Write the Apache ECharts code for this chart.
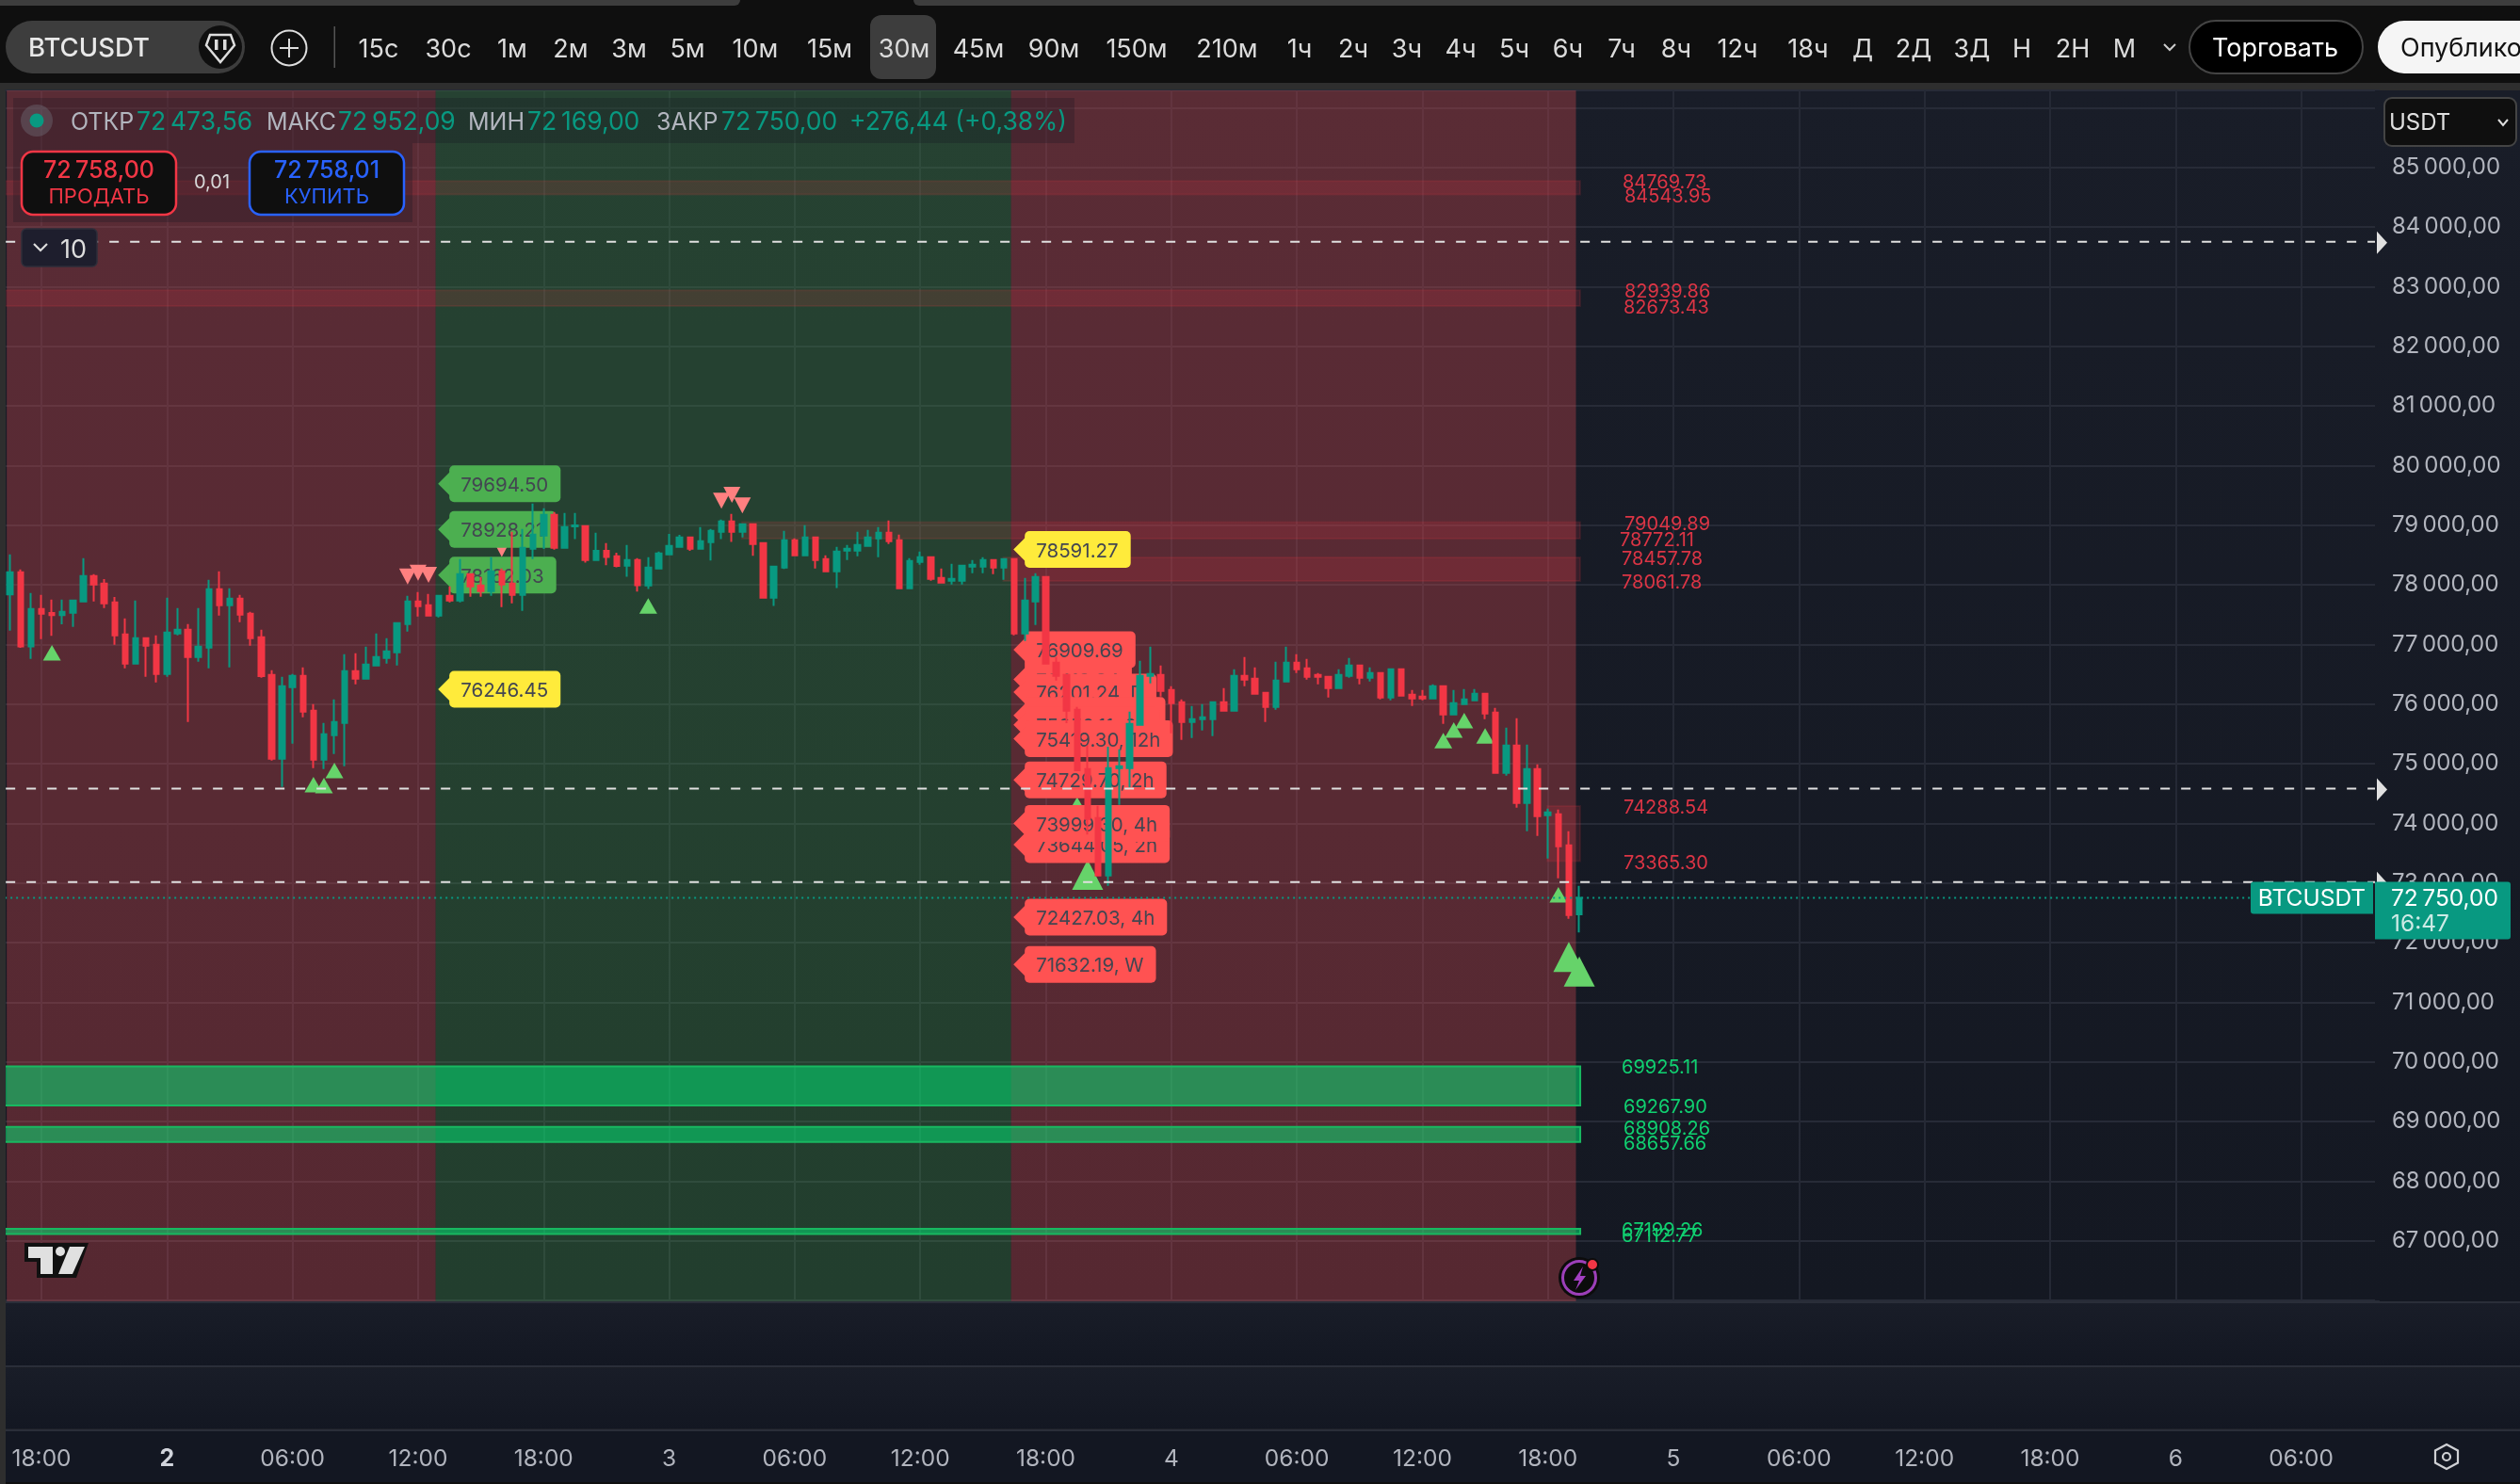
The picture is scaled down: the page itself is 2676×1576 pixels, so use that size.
<!DOCTYPE html>
<html><head><meta charset="utf-8">
<script src="https://cdn.jsdelivr.net/npm/echarts@6/dist/echarts.min.js"></script>
<style>html,body{margin:0;padding:0;background:#0f0f0f}#c{width:2676px;height:1576px}</style>
</head><body><div id="c"></div>
<script>
const tickLabels=['18:00','2','06:00','12:00','18:00','3','06:00','12:00','18:00','4','06:00','12:00','18:00','5','06:00','12:00','18:00','6','06:00'];
const opens=[77837,78211,76968,77595,77526,77490,77532,77721,78147,78021,77705,77169,76679,77105,76995,76505,77184,77247,76790,76947,77926,77658,77768,77516,77121,76490,75084,76284,76474,75890,75069,75479,75684,76553,76426,76647,76774,76868,77342,77721,77658,77484,77816,77737,78179,77989,77895,78226,78021,77832,78605,78826,79174,78621,78978,78984,78415,78568,78478,78321,78415,77989,78273,78510,78636,78794,78605,78715,78889,79063,78889,79015,78699,77784,78289,78747,78494,78794,78431,78226,78573,78573,78652,78778,78873,78747,77942,78384,78463,78115,78068,78068,78305,78305,78415,78289,78431,77184,77721,78131,76695,76489,75905,74910,74089,73126,74926,74926,75652,76473,76489,76236,76031,75700,75747,75747,76031,75889,76473,76426,76189,75952,76378,76694,76600,76489,76457,76268,76473,76647,76442,76521,76110,76584,76157,76126,76094,76300,75826,76000,76063,76173,75857,74847,75305,74342,74910,74137,74152,73631,72473.56];
const closes=[78211,76968,77595,77516,77490,77547,77737,78147,78005,77690,77153,76679,77105,76979,76505,77200,77247,76790,76963,77926,77658,77768,77500,77105,76468,75084,76300,76474,75874,75069,75495,75700,76553,76426,76663,76790,76884,77358,77721,77642,77484,77816,77737,78179,77974,77895,78226,78005,77832,78621,78842,79174,78621,78968,78994,78415,78568,78468,78315,78415,77994,78289,78526,78652,78794,78605,78731,78905,79063,78889,79015,78684,77784,78305,78747,78494,78794,78415,78226,78557,78605,78668,78794,78873,78731,77942,78400,78463,78100,78036,78100,78321,78336,78415,78289,78431,77184,77737,78131,76679,76474,75889,74889,74074,73126,74926,74958,75668,76473,76505,76221,76015,75700,75747,75779,76031,75889,76473,76410,76173,75952,76394,76694,76584,76457,76457,76268,76489,76647,76442,76521,76110,76584,76142,76094,76094,76300,75826,76015,76078,76173,75842,74847,75305,74342,74910,74121,74184,73615,72463,72750];
const lows=[77232,76942,76758,77090,77142,77337,77295,77721,77721,77611,76995,76600,76679,76458,76363,76458,77153,75700,76711,76600,77484,76616,77374,76979,76442,75053,74611,75337,75779,74926,74911,75163,74958,76332,76411,76632,76679,76647,77216,77468,77468,77453,77705,77705,77800,77800,77816,77626,77689,77563,78432,78600,78589,78610,78768,78373,78400,78326,78294,78136,77884,77931,78273,78510,78636,78568,78594,78405,78768,78720,78794,78484,77784,77647,78263,78478,78494,78273,78215,77947,78415,78478,78636,78463,78684,77942,77942,78336,78068,78021,78005,78005,78194,78194,78178,78084,77152,77058,77326,76679,76395,75679,74889,73811,73126,72953,74310,74600,75636,76347,76126,75510,75400,75431,75557,75463,75873,75889,76300,76173,75700,75905,76378,76521,76410,76331,76110,76252,76442,76331,76378,76078,76063,76126,75968,76063,76094,75668,75826,76000,76047,75747,74847,74800,74263,73868,73789,73410,73079,72400,72169];
const highs=[78511,78258,77863,77832,77753,77753,77737,78447,78179,78095,77795,77437,77737,77121,77153,77784,77611,77342,77611,78084,78226,77942,77832,77547,77247,76568,76458,76505,76616,76000,75684,76079,76837,76853,76963,77184,77105,77374,77816,77879,77847,77816,77974,78432,78195,78132,78463,78274,78889,78937,79363,79284,79221,79205,79205,78984,78873,78699,78536,78668,78447,78463,78557,78852,78836,78810,78968,78936,79094,79189,79015,79015,78715,78305,78905,78778,78999,78810,78494,78636,78668,78889,78921,78968,79078,78842,78447,78557,78463,78273,78352,78336,78415,78463,78431,78431,78431,78116,78195,78131,76789,76495,75953,75305,74295,75284,75242,75874,76726,76963,76647,76300,76078,75968,76000,76047,76268,76584,76789,76615,76189,76710,76963,76836,76757,76521,76457,76584,76773,76663,76615,76536,76600,76600,76236,76236,76331,76300,76236,76252,76252,76189,75936,75605,75763,75321,74989,74247,74231,73868,72952.09];
const sessionStarts=[0,41,96];
const sessionEnds=[40,95,149];
const sessionBull=[false,true,false];
const resistTop=[84769.73,82939.86,79049.89,78457.78,74288.54];
const resistBottom=[84543.95,82673.43,78772.11,78061.78,73365.30];
const resistFrom=[0,0,70,95,147];
const supportTop=[69925.11,68908.26,67199.26];
const supportBottom=[69267.90,68657.66,67112.77];
const levelNames=['84769.73','84543.95','82939.86','82673.43','79049.89','78772.11','78457.78','78061.78','74288.54','73365.30','69925.11','69267.90','68908.26','68657.66','67199.26','67112.77'];
const levelValues=[84769.73,84543.95,82939.86,82673.43,79049.89,78772.11,78457.78,78061.78,74288.54,73365.30,69925.11,69267.90,68908.26,68657.66,67199.26,67112.77];
const dashedLevels=[83753,74583,73016];
const upIdx=[4,29,30,31,61,102,137,138,139,141,148];
const upVal=[76858,74648,74632,74884,77647,74310,75389,75563,75721,75468,72800];
const bigUpIdx=[103,149,150];
const bigUpVal=[73137,71758,71516];
const downIdx=[38,39,40,47,68,69,70];
const downVal=[78137,78200,78168,78600,79410,79510,79331];
const greenTagVals=[79694.50,78928.21,78162.03];
const yellowTagIdx=[41,96];
const yellowTagVals=[76246.45,78591.27];
const redTagVals=[76909.69,76413.84,76201.24,75810.52,75650.11,75419.30,74729.70,73644.05,73999.30,72427.03,71632.19];
const redTagText=['76909.69','76413.84','76201.24, D','75810.52, 8h','75650.11, 6h','75419.30, 12h','74729.70, 2h','73644.05, 2h','73999.30, 4h','72427.03, 4h','71632.19, W'];
const lastPrice=72750;
const yTop=86290, yBottom=66000, yStep=1000;

const UP='#089981',DN='#f23645',TAGTXT='#434651',FONT='Inter, Roboto, sans-serif';
const BAR_COUNT=227;
const categories=[];for(let i=0;i<BAR_COUNT;i++){categories.push((i-3)%12===0?(tickLabels[(i-3)/12]||''):'');}
const isTick=i=>(i-3)%12===0;
const candleData=opens.map((o,i)=>[o,closes[i],lows[i],highs[i]]);
const meas=document.createElement('canvas').getContext('2d');
function tw(s,f){meas.font=f;return meas.measureText(s).width;}
const tagFont='20.5px '+FONT;
function tagItem(api,idx,val,text,fill){
  const p=api.coord([idx,val]);const tip=p[0]-1,left=tip+12,cy=p[1];
  const w=tw(text,tagFont)+25;
  return {type:'group',children:[
    {type:'polygon',shape:{points:[[tip,cy],[left+1,cy-13],[left+1,cy+13]]},style:{fill}},
    {type:'rect',shape:{x:left,y:cy-19.5,width:w,height:39,r:5},style:{fill}},
    {type:'text',style:{text,x:left+12,y:cy+2,fill:TAGTXT,font:tagFont,verticalAlign:'middle'}}
  ]};
}
const paneGrad=(a,b)=>({type:'linear',x:0,y:0,x2:0,y2:1,colorStops:[{offset:0,color:a},{offset:1,color:b}]});
const g=[];
const rect=(x,y,w,h,fill,z,extra)=>g.push(Object.assign({type:'rect',z,shape:{x,y,width:w,height:h,r:(extra&&extra.r)||0},style:{fill,stroke:extra&&extra.stroke,lineWidth:extra&&extra.lw}}));
const t=(x,y,text,fill,font,align,z)=>g.push({type:'text',z:z||60,style:{x,y,text,fill,font,align:align||'left',verticalAlign:'middle'}});
// backgrounds
rect(0,0,2676,1576,'#0f0f0f',-20);
rect(0,88,2676,8,'#2e2e2e',-19);
rect(0,96,2676,1286,paneGrad('#191d28','#141822'),-18);
rect(0,1382,2676,2,'#2a2e39',-18);
rect(0,1384,2676,66,paneGrad('#191d28','#131722'),-18);
rect(0,1450,2676,2.5,'#2a2e39',-18);
rect(0,1452.5,2676,65,paneGrad('#191d28','#131722'),-18);
rect(0,1517.5,2676,2.5,'#2a2e39',-18);
rect(0,1520,2676,54,'#131722',-18);
rect(2522,96,6,1285,paneGrad('#191d28','#141822'),1);
rect(0,96,6,1480,'#2e2e2e',60);
// toolbar
rect(0,0,786,6,'#3d3d3d',60,{r:[0,0,8,0]});
rect(970,0,1706,6,'#3d3d3d',60,{r:[0,0,0,8]});
rect(6,22,254,56,'#3d3d3d',60,{r:28});
t(30,52,'BTCUSDT','#e8e8e8','500 27.5px '+FONT);
g.push({type:'circle',z:60,shape:{cx:234,cy:50,r:23},style:{fill:'#0f0f0f'}});
g.push({type:'polygon',z:61,shape:{points:[[223,37],[245,37],[249,48],[234,66],[219,48]]},style:{fill:'none',stroke:'#dddddd',lineWidth:2.5}});
g.push({type:'rect',z:61,shape:{x:228,y:42,width:3.5,height:11},style:{fill:'#dddddd'}});
g.push({type:'rect',z:61,shape:{x:237,y:42,width:3.5,height:11},style:{fill:'#dddddd'}});
g.push({type:'circle',z:60,shape:{cx:307,cy:51,r:18.5},style:{fill:'none',stroke:'#dddddd',lineWidth:2}});
g.push({type:'line',z:60,shape:{x1:297,y1:51,x2:317,y2:51},style:{stroke:'#dddddd',lineWidth:2}});
g.push({type:'line',z:60,shape:{x1:307,y1:41,x2:307,y2:61},style:{stroke:'#dddddd',lineWidth:2}});
rect(354.5,28,1.5,44,'#555555',60);
rect(924,16,70,68,'#3d3d3d',60,{r:12});
const tfNames=['15с','30с','1м','2м','3м','5м','10м','15м','30м','45м','90м','150м','210м','1ч','2ч','3ч','4ч','5ч','6ч','7ч','8ч','12ч','18ч','Д','2Д','3Д','Н','2Н','М'];
const tfX=[402,476,544,606,668,730,802,881,960,1039,1119,1207,1303,1380,1437,1494,1551,1608,1665,1722,1780,1845,1920,1978,2032,2094,2147,2201,2256];
tfNames.forEach((n,i)=>t(tfX[i],53,n,'#dbdbdb','27px '+FONT,'center',61));
g.push({type:'polyline',z:60,shape:{points:[[2298,47],[2304,53],[2310,47]]},style:{fill:'none',stroke:'#cccccc',lineWidth:2}});
rect(2325,22,184,56,'#000000',60,{r:28,stroke:'#444444',lw:2});
t(2416,52,'Торговать','#ffffff','27px '+FONT,'center',61);
rect(2525,22,200,56,'#f5f5f5',60,{r:28});
t(2549,52,'Опубликовать','#111111','27px '+FONT,'left',61);
// legend
rect(14,104,1127,48,'rgba(22,22,32,0.28)',50);
rect(14,152,424,84,'rgba(22,22,32,0.28)',50);
g.push({type:'circle',z:60,shape:{cx:39,cy:128,r:17},style:{fill:'rgba(120,123,134,0.35)'}});
g.push({type:'circle',z:61,shape:{cx:39,cy:128,r:7.5},style:{fill:UP}});
const lf='25px '+FONT, vf='26.5px '+FONT;
t(75,130,'ОТКР','#b2b5be',lf);t(145,130,'72\u2009473,56',UP,vf);
t(283,130,'МАКС','#b2b5be',lf);t(359,130,'72\u2009952,09',UP,vf);
t(497,130,'МИН','#b2b5be',lf);t(560,130,'72\u2009169,00',UP,vf);
t(697,130,'ЗАКР','#b2b5be',lf);t(766,130,'72\u2009750,00',UP,vf);
t(902,130,'+276,44 (+0,38%)',UP,vf);
rect(23,161,164,67,'#0f0f0f',55,{r:12,stroke:'#f23645',lw:2.5});
rect(265,161,164,67,'#0f0f0f',55,{r:12,stroke:'#2962ff',lw:2.5});
t(105,181,'72\u2009758,00','#f23645','500 25px '+FONT,'center');
t(105,209,'ПРОДАТЬ','#f23645','22px '+FONT,'center');
t(347,181,'72\u2009758,01','#2962ff','500 25px '+FONT,'center');
t(347,209,'КУПИТЬ','#2962ff','22px '+FONT,'center');
t(225,194,'0,01','#d8d8d8','20px '+FONT,'center');
rect(23,243,80,40,'#1e1e2d',55,{r:5,stroke:'#2e2e3a',lw:1.5});
g.push({type:'polyline',z:60,shape:{points:[[36,259],[43,266],[50,259]]},style:{fill:'none',stroke:'#dddddd',lineWidth:2.2}});
t(64,266,'10','#dddddd','27px '+FONT);
// USDT button
rect(2532,104,140,51,'#0f0f0f',55,{r:8,stroke:'#444444',lw:2});
t(2537,131,'USDT','#e0e0e0','24px '+FONT);
g.push({type:'polyline',z:60,shape:{points:[[2653,127],[2658,133],[2663,127]]},style:{fill:'none',stroke:'#dddddd',lineWidth:2}});
// TV logo
g.push({type:'polygon',z:40,shape:{points:[[26,1320],[94,1320],[81,1357],[39,1357],[39,1340],[26,1340]]},style:{fill:'#111111'}});
g.push({type:'polygon',z:41,shape:{points:[[30,1324],[56,1324],[56,1353],[43,1353],[43,1336],[30,1336]]},style:{fill:'#e0e0e0'}});
g.push({type:'circle',z:41,shape:{cx:64,cy:1329,r:5},style:{fill:'#e0e0e0'}});
g.push({type:'polygon',z:41,shape:{points:[[74,1324],[90,1324],[77,1353],[62,1353]]},style:{fill:'#e0e0e0'}});
// lightning icon
g.push({type:'circle',z:40,shape:{cx:1677,cy:1357,r:22},style:{fill:'#0c0c0c'}});
g.push({type:'circle',z:41,shape:{cx:1677,cy:1357,r:17.5},style:{fill:'none',stroke:'#9c3fb8',lineWidth:3}});
g.push({type:'polygon',z:41,shape:{points:[[1681,1345],[1671,1360],[1677,1360],[1673,1370],[1684,1355],[1678,1355]]},style:{fill:'#a23fc0'}});
g.push({type:'circle',z:42,shape:{cx:1691,cy:1343,r:6},style:{fill:'#f23645',stroke:'#0c0c0c',lineWidth:2}});
// settings icon
g.push({type:'polygon',z:40,shape:{points:[[2598,1534],[2610,1540.5],[2610,1553.5],[2598,1560],[2586,1553.5],[2586,1540.5]]},style:{fill:'none',stroke:'#cfd0d4',lineWidth:2.2}});
g.push({type:'circle',z:40,shape:{cx:2598,cy:1547,r:4},style:{fill:'none',stroke:'#cfd0d4',lineWidth:2.2}});

const zoneData=sessionStarts.map((s,i)=>[s,sessionEnds[i],sessionBull[i]?1:0]);
const resistData=resistTop.map((v,i)=>[resistFrom[i],v,resistBottom[i]]);
const supportData=supportTop.map((v,i)=>[0,v,supportBottom[i]]);
const labelX=[1723,1725,1725,1724,1725,1720,1722,1722,1724,1724,1722,1724,1724,1724,1722,1722];
const option={
 animation:false,
 backgroundColor:'#0f0f0f',
 graphic:{elements:g},
 grid:{left:5.15,top:96,width:227*11.109,height:1285,containLabel:false},
 xAxis:{type:'category',data:categories,boundaryGap:true,
  axisLine:{show:false},axisTick:{show:false},
  axisLabel:{interval:i=>isTick(i),margin:156,color:'#b2b5be',fontFamily:FONT,fontSize:24.5,
    formatter:v=>v==='2'?'{b|2}':v,rich:{b:{fontWeight:700,fontSize:25,color:'#d1d4dc',fontFamily:FONT}}},
  splitLine:{show:true,alignWithLabel:true,interval:i=>isTick(i),lineStyle:{color:'#252935',width:2}}},
 yAxis:{type:'value',position:'right',min:yBottom,max:yTop,interval:yStep,
  axisLine:{show:false},axisTick:{show:false},
  axisLabel:{margin:13,color:'#b2b5be',fontFamily:FONT,fontSize:24,align:'left',
    showMaxLabel:false,showMinLabel:false,
    formatter:v=>(v>85000||v<67000)?'':String(v).slice(0,2)+'\u2009'+String(v).slice(2)+',00'},
  splitLine:{show:true,lineStyle:{color:'#272b37',width:2}}},
 series:[
  {type:'custom',name:'sessions',z:2,data:zoneData,encode:{x:0,y:1},silent:true,
   renderItem:(p,api)=>{const c=p.coordSys;const half=api.size([1,0])[0]/2;
     const a=Math.max(api.coord([api.value(0),yTop])[0]-half+2,c.x);
     const b=api.coord([api.value(1),yTop])[0]+half+2;
     return {type:'rect',shape:{x:a,y:c.y,width:b-a,height:c.height+1},
       style:{fill:api.value(2)?'rgba(76,175,80,0.26)':'rgba(242,80,85,0.30)'}};}},
  {type:'custom',name:'resistance',z:3,data:resistData,encode:{x:0,y:1},silent:true,
   renderItem:(p,api)=>{const half=api.size([1,0])[0]/2;const i=api.value(0);
     const a=api.coord([i,api.value(1)]);const b=api.coord([150,api.value(2)]);
     const x=i===0?p.coordSys.x:a[0]-half+5;
     return {type:'rect',shape:{x,y:a[1],width:b[0]+1-x,height:b[1]-a[1]},
       style:{fill:'rgba(242,54,69,0.15)',stroke:'rgba(242,54,69,0.12)',lineWidth:2}};}},
  {type:'custom',name:'support',z:3,data:supportData,encode:{x:0,y:1},silent:true,
   renderItem:(p,api)=>{const a=api.coord([0,api.value(1)]);const b=api.coord([150,api.value(2)]);
     const x=p.coordSys.x;
     return {type:'rect',shape:{x,y:a[1],width:b[0]+1-x,height:b[1]-a[1]},
       style:{fill:'rgba(0,240,122,0.5)',stroke:'#18b860',lineWidth:2}};}},
  {type:'custom',name:'levelLabels',z:3,data:levelValues.map(v=>[158,v]),encode:{x:0,y:1},silent:true,
   renderItem:(p,api)=>{const q=api.coord([api.value(0),api.value(1)]);const i=p.dataIndex;
     return {type:'text',style:{text:levelNames[i],x:labelX[i],y:q[1]+2,align:'left',verticalAlign:'middle',
       fill:i<10?'#dc3545':'#10d070',font:'20px '+FONT}};}},
  {type:'scatter',name:'up',z:4,data:upIdx.map((x,i)=>[x,upVal[i]]),symbol:'triangle',symbolSize:[19,16.5],itemStyle:{color:'#66d36a',opacity:1},silent:true,clip:false},
  {type:'scatter',name:'bigUp',z:4,data:bigUpIdx.map((x,i)=>[x,bigUpVal[i]]),symbol:'triangle',symbolSize:[33,32],itemStyle:{color:'#66d36a',opacity:1},silent:true,clip:false},
  {type:'scatter',name:'down',z:4,data:downIdx.map((x,i)=>[x,downVal[i]]),symbol:'triangle',symbolRotate:180,symbolSize:[18,17],itemStyle:{color:'#ff8080',opacity:1},silent:true},
  {type:'custom',name:'greenTags',z:5,data:greenTagVals.map(v=>[41,v]),encode:{x:0,y:1},silent:true,
   renderItem:(p,api)=>tagItem(api,api.value(0),api.value(1),greenTagVals[p.dataIndex].toFixed(2),'#4caf50')},
  {type:'custom',name:'yellowTags',z:5,data:yellowTagVals.map((v,i)=>[yellowTagIdx[i],v]),encode:{x:0,y:1},silent:true,
   renderItem:(p,api)=>tagItem(api,api.value(0),api.value(1),yellowTagVals[p.dataIndex].toFixed(2),'#ffeb3b')},
  {type:'custom',name:'redTags',z:5,data:redTagVals.map(v=>[96,v]),encode:{x:0,y:1},silent:true,
   renderItem:(p,api)=>tagItem(api,api.value(0),api.value(1),redTagText[p.dataIndex],'#ff5252')},
  {type:'candlestick',name:'BTCUSDT',z:6,data:candleData,barWidth:6,silent:true,
   itemStyle:{color:UP,color0:DN,borderColor:UP,borderColor0:DN,borderWidth:2}},
  {type:'custom',name:'dashed',z:7,data:dashedLevels.map(v=>[0,v]),encode:{x:0,y:1},silent:true,
   renderItem:(p,api)=>{const c=p.coordSys;const y=api.coord([0,api.value(1)])[1];const r=2522;
     return {type:'group',children:[
       {type:'line',shape:{x1:c.x+1,y1:y,x2:r,y2:y},style:{stroke:'#e0e0e0',lineWidth:2,lineDash:[10,12]}},
       {type:'polygon',shape:{points:[[r+2,y-11],[r+13,y+1],[r+2,y+13]]},style:{fill:'#e0e0e0'}}]};}},
  {type:'custom',name:'last',z:8,data:[[150,lastPrice]],encode:{x:0,y:1},silent:true,
   renderItem:(p,api)=>{const c=p.coordSys;const y=api.coord([0,api.value(1)])[1];
     return {type:'group',children:[
       {type:'line',shape:{x1:c.x,y1:y,x2:2390,y2:y},style:{stroke:UP,lineWidth:2,lineDash:[2,4]}},
       {type:'rect',shape:{x:2390,y:y-17,width:130,height:34,r:[3,0,0,3]},style:{fill:UP}},
       {type:'text',style:{text:'BTCUSDT',x:2455,y:y+1,align:'center',verticalAlign:'middle',fill:'#ffffff',font:'24.5px '+FONT}},
       {type:'rect',shape:{x:2522,y:y-17,width:144,height:61,r:[0,3,3,0]},style:{fill:UP}},
       {type:'text',style:{text:'72\u2009750,00',x:2539,y:y+1,verticalAlign:'middle',fill:'#ffffff',font:'24.5px '+FONT}},
       {type:'text',style:{text:'16:47',x:2539,y:y+28,verticalAlign:'middle',fill:'rgba(255,255,255,0.8)',font:'24.5px '+FONT}}]};}}
 ]
};
const chart=echarts.init(document.getElementById('c'),null,{renderer:'canvas',width:2676,height:1576});
chart.setOption(option);
</script></body></html>
